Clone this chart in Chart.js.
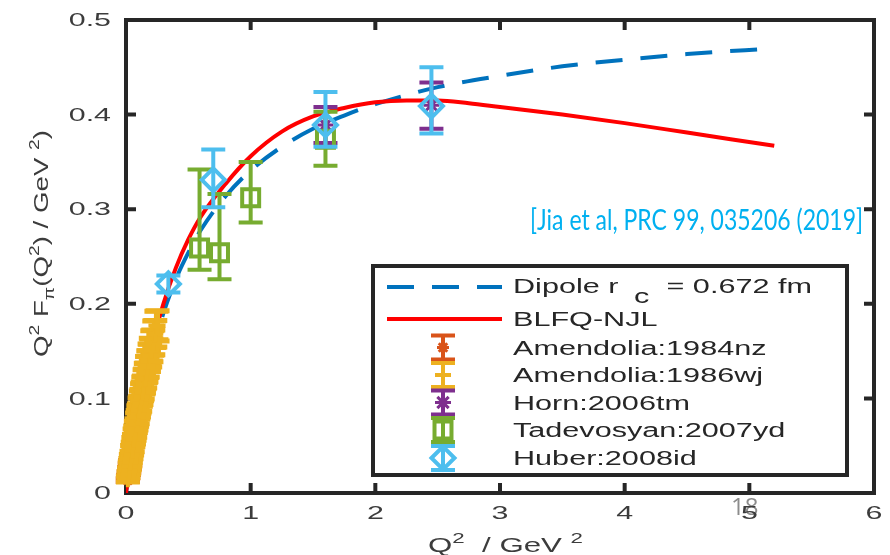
<!DOCTYPE html>
<html>
<head>
<meta charset="utf-8">
<title>Pion form factor</title>
<script src="https://cdn.jsdelivr.net/npm/chart.js@4/dist/chart.umd.min.js"></script>
<style>
  html, body { margin: 0; padding: 0; background: #fff; overflow: hidden; }
  canvas { display: block; }
</style>
</head>
<body>
<canvas id="myChart" width="890" height="555"></canvas>
<script>
// Axis ticks
const xTickVals = [0, 1, 2, 3, 4, 5, 6];
const xTickLabels = ['0', '1', '2', '3', '4', '5', '6'];
const yTickVals = [0, 0.1, 0.2, 0.3, 0.4, 0.5];
const yTickLabels = ['0', '0.1', '0.2', '0.3', '0.4', '0.5'];

// Dipole curve (r_c = 0.672 fm)
const dipoleQ2 = [0, 0.05, 0.1, 0.2, 0.3, 0.4, 0.5, 0.6, 0.8, 1.0, 1.25, 1.5, 1.75, 2.0, 2.5, 3.0, 3.5, 4.0, 4.5, 5.2];
const dipoleF = [0, 0.045, 0.084, 0.144, 0.190, 0.226, 0.254, 0.278, 0.314, 0.341, 0.366, 0.385, 0.399, 0.411, 0.429, 0.441, 0.451, 0.458, 0.464, 0.470];

// BLFQ-NJL curve
const blfqQ2 = [0, 0.05, 0.1, 0.2, 0.3, 0.4, 0.5, 0.6, 0.8, 1.0, 1.25, 1.5, 1.75, 2.0, 2.25, 2.5, 2.75, 3.0, 3.5, 4.0, 4.5, 5.2];
const blfqF = [0, 0.046, 0.086, 0.152, 0.200, 0.238, 0.268, 0.292, 0.327, 0.356, 0.382, 0.398, 0.407, 0.413, 0.415, 0.415, 0.412, 0.408, 0.400, 0.391, 0.381, 0.367];

// Amendolia:1984nz
const am84Q2 = [0.014, 0.018, 0.022, 0.026, 0.030, 0.034];
const am84F = [0.0135, 0.0172, 0.0210, 0.0245, 0.0285, 0.0320];
const am84Err = [0.002, 0.002, 0.002, 0.003, 0.003, 0.003];

// Amendolia:1986wj
const am86Q2 = [0.015, 0.020, 0.025, 0.030, 0.035, 0.039, 0.044, 0.049, 0.054, 0.059,
                0.064, 0.069, 0.074, 0.079, 0.084, 0.089, 0.094, 0.099, 0.104, 0.109,
                0.114, 0.119, 0.124, 0.129, 0.134, 0.139, 0.144, 0.149, 0.154, 0.159,
                0.164, 0.169, 0.174, 0.179, 0.184, 0.189, 0.194, 0.199, 0.204, 0.211,
                0.219, 0.227, 0.235, 0.244, 0.253];
const am86F = [0.0146, 0.0195, 0.0236, 0.0287, 0.0325, 0.0366, 0.0401, 0.0452, 0.0486, 0.0538,
               0.0568, 0.0617, 0.0649, 0.0699, 0.0726, 0.0775, 0.0801, 0.0851, 0.0874, 0.0925,
               0.0944, 0.0997, 0.1015, 0.1066, 0.1083, 0.1136, 0.1148, 0.1203, 0.1212, 0.1268,
               0.1275, 0.1332, 0.1336, 0.1394, 0.1395, 0.1456, 0.1452, 0.1516, 0.1508, 0.1585,
               0.1592, 0.1677, 0.1683, 0.1770, 0.1766];
const am86Err = [0.003, 0.003, 0.003, 0.004, 0.004, 0.004, 0.004, 0.005, 0.005, 0.005,
                 0.005, 0.006, 0.006, 0.006, 0.006, 0.007, 0.007, 0.007, 0.007, 0.008,
                 0.008, 0.008, 0.008, 0.009, 0.009, 0.009, 0.009, 0.010, 0.010, 0.010,
                 0.010, 0.011, 0.011, 0.011, 0.011, 0.012, 0.012, 0.012, 0.012, 0.013,
                 0.013, 0.014, 0.014, 0.015, 0.016];

// Horn:2006tm
const hornQ2 = [1.60, 2.45];
const hornF = [0.389, 0.410];
const hornLo = [0.370, 0.385];
const hornHi = [0.408, 0.434];

// Tadevosyan:2007yd
const tadQ2 = [0.59, 0.75, 1.00, 1.60];
const tadF = [0.259, 0.254, 0.312, 0.374];
const tadLo = [0.236, 0.226, 0.286, 0.346];
const tadHi = [0.342, 0.316, 0.350, 0.403];

// Huber:2008id
const hubQ2 = [0.34, 0.70, 1.60, 2.45];
const hubF = [0.221, 0.331, 0.389, 0.409];
const hubLo = [0.212, 0.302, 0.366, 0.380];
const hubHi = [0.230, 0.363, 0.424, 0.450];

const FONT = '"Liberation Sans", Arial, Helvetica, sans-serif';
const AXIS_COLOR = '#262626';
const TEXT_COLOR = '#3c3c3c';

function points(xs, ys) {
    return xs.map((x, i) => ({ x: x, y: ys[i] }));
}

// draw text squeezed/stretched horizontally by sx
function stretchText(ctx, text, x, y, sx, align) {
    const w = ctx.measureText(text).width * sx;
    let x0 = x;
    if (align === 'right') x0 = x - w;
    else if (align === 'center') x0 = x - w / 2;
    ctx.save();
    ctx.translate(x0, y);
    ctx.scale(sx, 1);
    ctx.textAlign = 'left';
    ctx.fillText(text, 0, 0);
    ctx.restore();
    return w;
}

// text with superscripts / subscripts, fitted to a given length
function richText(ctx, parts, size, length) {
    const small = Math.round(size * 0.7);
    let natural = 0;
    parts.forEach(p => {
        ctx.font = (p.s ? small : size) + 'px ' + FONT;
        natural += ctx.measureText(p.t).width;
    });
    const sx = length / natural;
    ctx.save();
    ctx.scale(sx, 1);
    ctx.textAlign = 'left';
    ctx.textBaseline = 'alphabetic';
    let x = 0;
    parts.forEach(p => {
        ctx.font = (p.s ? small : size) + 'px ' + FONT;
        let dy = 0;
        if (p.s === 'sup') dy = -size * 0.45;
        if (p.s === 'sub') dy = size * 0.3;
        ctx.fillText(p.t, x, dy);
        x += ctx.measureText(p.t).width;
    });
    ctx.restore();
}

function errorBarPath(ctx, px, top, bot, half) {
    ctx.beginPath();
    ctx.moveTo(px, top);
    ctx.lineTo(px, bot);
    ctx.moveTo(px - half, top);
    ctx.lineTo(px + half, top);
    ctx.moveTo(px - half, bot);
    ctx.lineTo(px + half, bot);
    ctx.stroke();
}

function marker(ctx, ds, x, y) {
    ctx.save();
    ctx.strokeStyle = ds.borderColor;
    ctx.fillStyle = 'rgba(0,0,0,0)';
    ctx.lineWidth = ds.pointBorderWidth;
    if (Chart.helpers && Chart.helpers.drawPoint) {
        Chart.helpers.drawPoint(ctx, {
            pointStyle: ds.pointStyle,
            radius: ds.pointRadius,
            rotation: 0,
            borderWidth: ds.pointBorderWidth
        }, x, y);
    }
    ctx.restore();
}

// Error bars drawn under each dataset's markers
const errorBars = {
    id: 'errorBars',
    beforeDatasetDraw(chart, args) {
        const ds = chart.data.datasets[args.index];
        if (!ds.errLo && !ds.errSym) return;
        const ctx = chart.ctx;
        const xs = chart.scales.x;
        const ys = chart.scales.y;
        ctx.save();
        ctx.strokeStyle = ds.borderColor;
        ctx.lineWidth = ds.barWidth || 4;
        ds.data.forEach((p, i) => {
            const lo = ds.errSym ? p.y - ds.errSym[i] : ds.errLo[i];
            const hi = ds.errSym ? p.y + ds.errSym[i] : ds.errHi[i];
            errorBarPath(ctx, xs.getPixelForValue(p.x), ys.getPixelForValue(hi), ys.getPixelForValue(lo), 12);
        });
        ctx.restore();
    }
};

// Box, ticks, tick labels and axis titles
const axesBox = {
    id: 'axesBox',
    beforeDatasetsDraw(chart) {
        const ctx = chart.ctx;
        const a = chart.chartArea;
        const xs = chart.scales.x;
        const ys = chart.scales.y;
        ctx.save();

        // slide page number
        ctx.fillStyle = '#8c8c8c';
        ctx.font = '24px "Open Sans", ' + FONT;
        ctx.textBaseline = 'alphabetic';
        ctx.fillText('18', 731, 515);

        ctx.strokeStyle = AXIS_COLOR;
        ctx.lineWidth = 4;
        ctx.strokeRect(a.left, a.top, a.right - a.left, a.bottom - a.top);

        ctx.beginPath();
        xTickVals.forEach(v => {
            const px = xs.getPixelForValue(v);
            ctx.moveTo(px, a.bottom); ctx.lineTo(px, a.bottom - 10);
            ctx.moveTo(px, a.top); ctx.lineTo(px, a.top + 10);
        });
        yTickVals.forEach(v => {
            const py = ys.getPixelForValue(v);
            ctx.moveTo(a.left, py); ctx.lineTo(a.left + 10, py);
            ctx.moveTo(a.right, py); ctx.lineTo(a.right - 10, py);
        });
        ctx.stroke();

        // tick labels
        ctx.fillStyle = TEXT_COLOR;
        ctx.font = '19px ' + FONT;
        ctx.textBaseline = 'middle';
        xTickVals.forEach((v, i) => {
            stretchText(ctx, xTickLabels[i], xs.getPixelForValue(v), 514, 1.6, 'center');
        });
        yTickVals.forEach((v, i) => {
            stretchText(ctx, yTickLabels[i], a.left - 15, ys.getPixelForValue(v) + 1, 1.6, 'right');
        });

        // x title
        ctx.save();
        ctx.translate(428, 552);
        richText(ctx, [{ t: 'Q' }, { t: '2', s: 'sup' }, { t: '  / GeV ' }, { t: '2', s: 'sup' }], 21, 155);
        ctx.restore();

        // y title
        ctx.save();
        ctx.translate(48, 357);
        ctx.rotate(-Math.PI / 2);
        richText(ctx, [{ t: 'Q' }, { t: '2', s: 'sup' }, { t: ' F' }, { t: 'π', s: 'sub' },
                       { t: '(Q' }, { t: '2', s: 'sup' }, { t: ') / GeV ' }, { t: '2', s: 'sup' }, { t: ')' }], 20, 227);
        ctx.restore();

        ctx.restore();
    },
    afterDraw(chart) {
        const ctx = chart.ctx;
        const sets = chart.data.datasets;
        ctx.save();

        // reference note
        ctx.fillStyle = '#00B0F0';
        ctx.font = '28px Lato, "Open Sans", ' + FONT;
        ctx.textBaseline = 'alphabetic';
        const note = '[Jia et al, PRC 99, 035206 (2019]';
        const nw = ctx.measureText(note).width;
        stretchText(ctx, note, 530, 230, 333 / nw, 'left');

        // legend box
        ctx.fillStyle = '#fff';
        ctx.fillRect(373, 266, 474, 209);
        ctx.strokeStyle = AXIS_COLOR;
        ctx.lineWidth = 4;
        ctx.strokeRect(373, 266, 474, 209);

        const textX = 513;
        const sx = 1.53;
        ctx.font = '20px ' + FONT;
        ctx.textBaseline = 'alphabetic';

        // line entries
        const lineRows = [287, 319];
        [0, 1].forEach((k, j) => {
            const ds = sets[k];
            const y = lineRows[j];
            ctx.save();
            ctx.strokeStyle = ds.borderColor;
            ctx.lineWidth = 4;
            ctx.setLineDash(ds.borderDash || []);
            ctx.beginPath();
            ctx.moveTo(387, y);
            ctx.lineTo(502, y);
            ctx.stroke();
            ctx.restore();
        });
        ctx.fillStyle = AXIS_COLOR;
        const lbl = sets[0].label.split('_');
        stretchText(ctx, lbl[0], textX, 293, sx, 'left');
        stretchText(ctx, lbl[1], 634, 303, sx, 'left');
        stretchText(ctx, lbl[2], 658, 293, sx, 'left');
        stretchText(ctx, sets[1].label, textX, 326, sx, 'left');

        // marker entries
        const markRows = [347.5, 375, 402.5, 430, 458];
        [2, 3, 4, 5, 6].forEach((k, j) => {
            const ds = sets[k];
            const y = markRows[j];
            ctx.save();
            ctx.strokeStyle = ds.borderColor;
            ctx.lineWidth = 4;
            errorBarPath(ctx, 443, y - 12, y + 12, 12);
            ctx.restore();
            marker(ctx, ds, 443, y);
            ctx.fillStyle = AXIS_COLOR;
            stretchText(ctx, ds.label, textX, y + 7, sx, 'left');
        });

        ctx.restore();
    }
};

// Chart data
const data = {
    datasets: [
        {
            label: 'Dipole r_c_ = 0.672 fm',
            data: points(dipoleQ2, dipoleF),
            showLine: true,
            borderColor: '#0072BD',
            borderWidth: 4,
            borderDash: [27, 18],
            pointRadius: 0,
            cubicInterpolationMode: 'monotone',
            order: 7
        },
        {
            label: 'BLFQ-NJL',
            data: points(blfqQ2, blfqF),
            showLine: true,
            borderColor: '#FF0000',
            borderWidth: 4,
            pointRadius: 0,
            cubicInterpolationMode: 'monotone',
            order: 6
        },
        {
            label: 'Amendolia:1984nz',
            data: points(am84Q2, am84F),
            errSym: am84Err,
            borderColor: '#D95319',
            pointStyle: 'star',
            pointRadius: 6,
            pointBorderWidth: 3,
            pointBackgroundColor: 'rgba(0,0,0,0)',
            pointBorderColor: '#D95319',
            clip: false,
            order: 5
        },
        {
            label: 'Amendolia:1986wj',
            data: points(am86Q2, am86F),
            errSym: am86Err,
            barWidth: 5,
            borderColor: '#EDB120',
            pointStyle: 'cross',
            pointRadius: 8,
            pointBorderWidth: 4,
            pointBackgroundColor: 'rgba(0,0,0,0)',
            pointBorderColor: '#EDB120',
            clip: false,
            order: 4
        },
        {
            label: 'Horn:2006tm',
            data: points(hornQ2, hornF),
            errLo: hornLo, errHi: hornHi,
            borderColor: '#7E2F8E',
            pointStyle: 'star',
            pointRadius: 8,
            pointBorderWidth: 3,
            pointBackgroundColor: 'rgba(0,0,0,0)',
            pointBorderColor: '#7E2F8E',
            clip: false,
            order: 3
        },
        {
            label: 'Tadevosyan:2007yd',
            data: points(tadQ2, tadF),
            errLo: tadLo, errHi: tadHi,
            borderColor: '#77AC30',
            pointStyle: 'rect',
            pointRadius: 12,
            pointBorderWidth: 4,
            pointBackgroundColor: 'rgba(0,0,0,0)',
            pointBorderColor: '#77AC30',
            clip: false,
            order: 2
        },
        {
            label: 'Huber:2008id',
            data: points(hubQ2, hubF),
            errLo: hubLo, errHi: hubHi,
            borderColor: '#4DBEEE',
            pointStyle: 'rectRot',
            pointRadius: 11.5,
            pointBorderWidth: 4,
            pointBackgroundColor: 'rgba(0,0,0,0)',
            pointBorderColor: '#4DBEEE',
            clip: false,
            order: 1
        }
    ]
};

const config = {
    type: 'scatter',
    data: data,
    options: {
        responsive: false,
        devicePixelRatio: 1,
        animation: false,
        events: [],
        layout: {
            padding: { left: 126, top: 20, right: 9, bottom: 62 }
        },
        scales: {
            x: { type: 'linear', min: 0, max: 6, display: false },
            y: { type: 'linear', min: 0, max: 0.5, display: false }
        },
        plugins: {
            legend: { display: false },
            tooltip: { enabled: false }
        }
    },
    plugins: [errorBars, axesBox]
};

const ctx = document.getElementById('myChart').getContext('2d');
const myChart = new Chart(ctx, config);
</script>
</body>
</html>
